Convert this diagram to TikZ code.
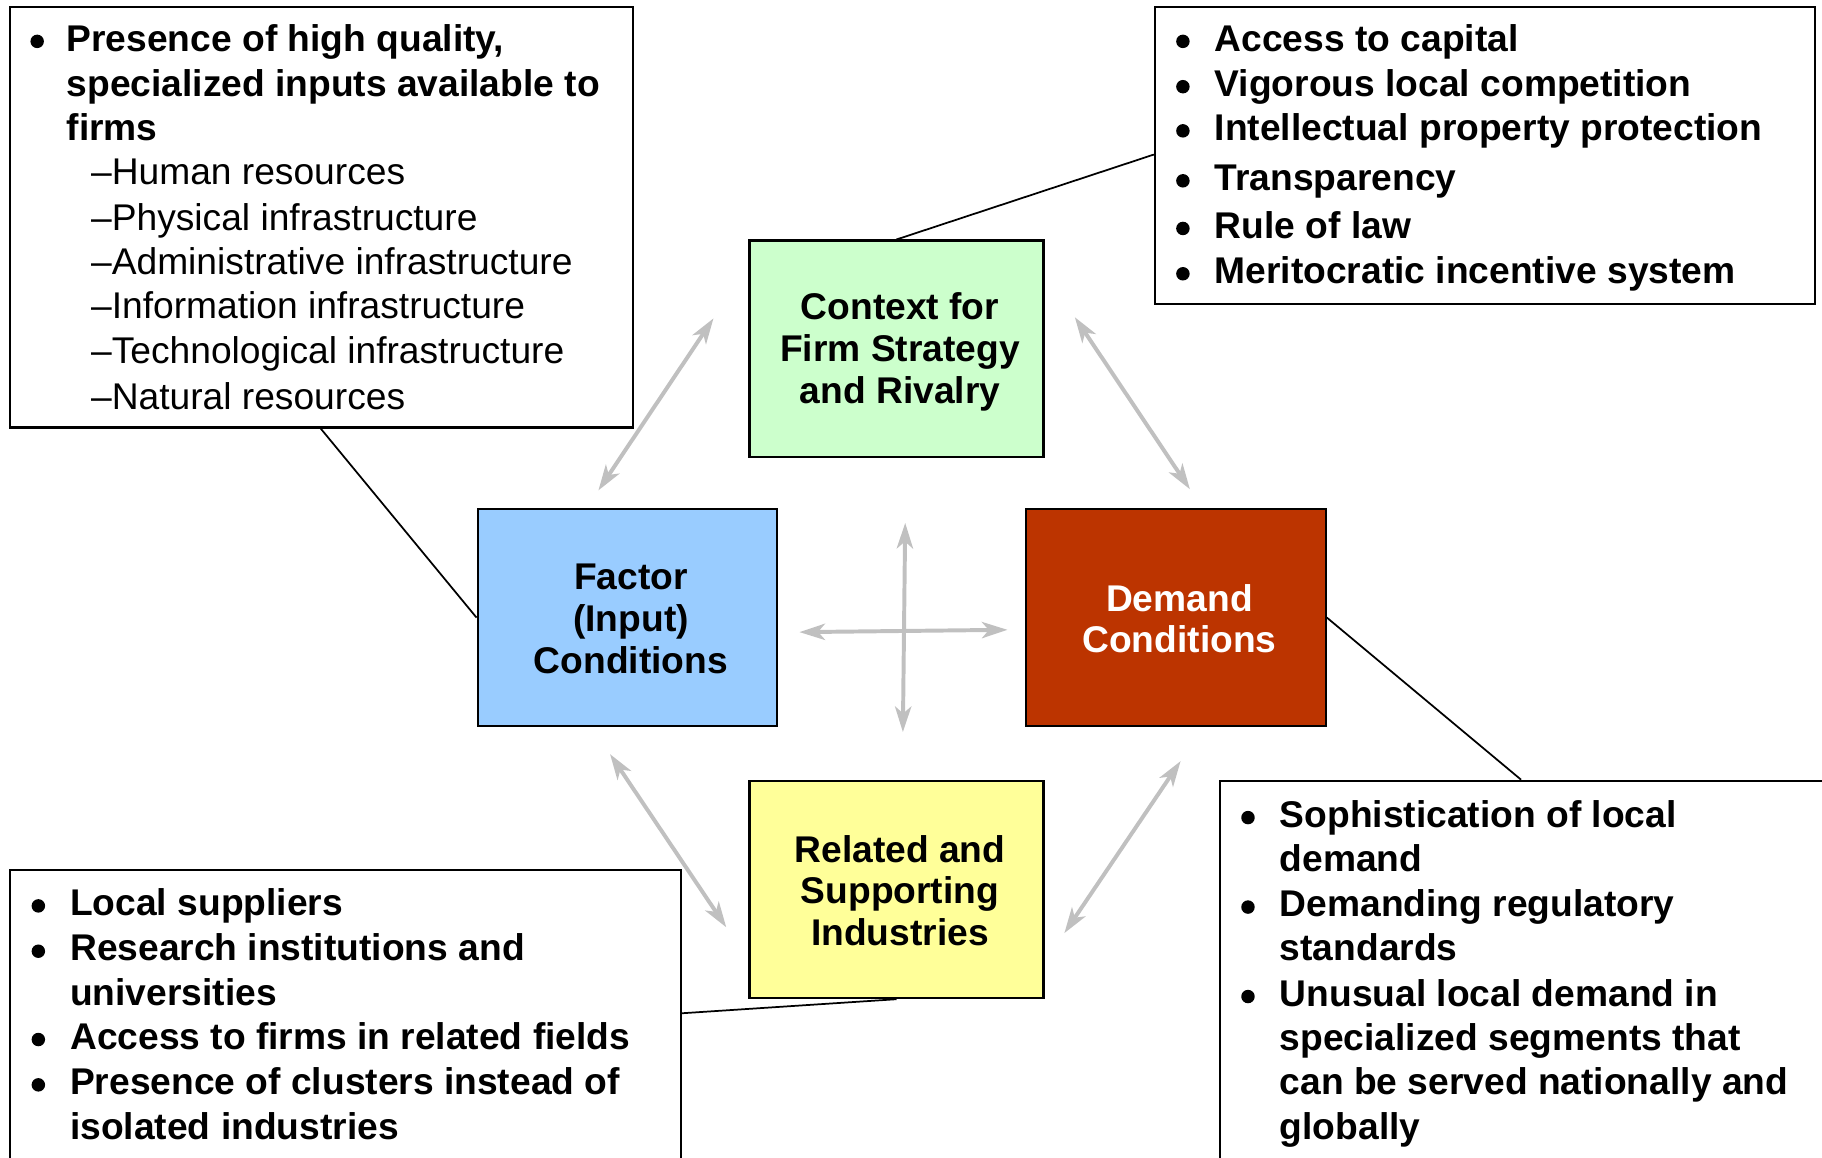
\documentclass[tikz,border=0pt]{standalone}
\usepackage{fontspec}
\setmainfont{Liberation Sans}
\usetikzlibrary{arrows.meta}
\definecolor{gfill}{HTML}{CCFFCC}
\definecolor{bfill}{HTML}{99CCFF}
\definecolor{rfill}{RGB}{188,52,0}
\definecolor{yfill}{HTML}{FFFF99}
\definecolor{arrgray}{HTML}{C0C0C0}
\begin{document}
\begin{tikzpicture}[x=0.5pt,y=-0.5pt,
  font=\fontsize{16}{18}\selectfont,
  listbox/.style={draw=black, line width=0.9pt, fill=white, inner sep=0pt, anchor=north west},
  cbox/.style={draw=black, line width=0.9pt, inner sep=0pt},
  ctext/.style={inner sep=0pt, align=center, font=\fontsize{16}{18}\selectfont\bfseries},
  tx/.style={anchor=base west, inner sep=0pt, font=\fontsize{16}{18}\selectfont\bfseries},
  sub/.style={anchor=base west, inner sep=0pt, font=\fontsize{16}{18}\selectfont},
  bul/.style={circle, fill=black, draw=none, inner sep=0pt, minimum size=5.8pt, yshift=4.2pt},
  conn/.style={draw=black, line width=0.75pt},
  dbl/.style={draw=arrgray, line width=1.7pt, {Stealth[length=11pt,width=7pt,inset=3pt]}-{Stealth[length=11pt,width=7pt,inset=3pt]}}
]
\useasboundingbox (0,0) rectangle (1568,996);
\clip (0,0) rectangle (1568,996);

% list boxes
\node[listbox, minimum width=268pt, minimum height=181pt] (tl) at (8,5) {};
\node[listbox, minimum width=284pt, minimum height=128pt] (tr) at (993,5) {};
\node[listbox, minimum width=288.5pt, minimum height=140pt] (bl) at (8,748) {};
\node[listbox, minimum width=280pt, minimum height=175pt] (br) at (1049,671) {};

% central boxes
\node[cbox, fill=gfill, minimum width=126.5pt, minimum height=93pt] (ctx) at (771.5,300) {};
\node[cbox, fill=bfill, minimum width=129pt, minimum height=93.5pt] (fac) at (540,531.5) {};
\node[cbox, fill=rfill, minimum width=129pt, minimum height=93.5pt] (dem) at (1012,531.5) {};
\node[cbox, fill=yfill, minimum width=126.5pt, minimum height=93.5pt] (rel) at (771.5,765.5) {};
\node[ctext] (ctxt) at ([xshift=1.5pt,yshift=-1.5pt]ctx.center) {Context for\\Firm Strategy\\and Rivalry};
\node[ctext] (fact) at ([xshift=1.5pt,yshift=-0.5pt]fac.center) {Factor\\(Input)\\Conditions};
\node[ctext, text=white] (demt) at ([xshift=1.5pt,yshift=-0.5pt]dem.center) {Demand\\Conditions};
\node[ctext] (relt) at ([xshift=1.5pt,yshift=-0.5pt]rel.center) {Related and\\Supporting\\Industries};

% connectors to list boxes
\draw[conn] ([xshift=134pt]tl.south west) -- (fac.west);
\draw[conn] ([yshift=-64pt]tr.north west) -- (ctx.north);
\draw[conn] (dem.east) -- ([xshift=130pt]br.north west);
\draw[conn] (rel.south) -- ([yshift=-62pt]bl.north east);

% gray double arrows
\coordinate (a1) at (614,274); \coordinate (a2) at (515,422);
\coordinate (b1) at (925,273); \coordinate (b2) at (1024,421);
\coordinate (c1) at (525,649); \coordinate (c2) at (625,798);
\coordinate (d1) at (1016,655); \coordinate (d2) at (916,803);
\coordinate (h1) at (688,544); \coordinate (h2) at (867,542);
\coordinate (v1) at (779,450); \coordinate (v2) at (777,630);
\draw[dbl] (a1) -- (a2);
\draw[dbl] (b1) -- (b2);
\draw[dbl] (c1) -- (c2);
\draw[dbl] (d1) -- (d2);
\draw[dbl] (h1) -- (h2);
\draw[dbl] (v1) -- (v2);

% top-left text
\node[bul] (tlb1) at (32,44) {};
\node[tx] (tl1) at (57,44) {Presence of high quality,};
\node[tx] (tl2) at (57,83) {specialized inputs available to};
\node[tx] (tl3) at (57,121) {firms};
\node[sub] (tl4) at (78,159) {–Human resources};
\node[sub] (tl5) at (78,198) {–Physical infrastructure};
\node[sub] (tl6) at (78,236) {–Administrative infrastructure};
\node[sub] (tl7) at (78,274) {–Information infrastructure};
\node[sub] (tl8) at (78,313) {–Technological infrastructure};
\node[sub] (tl9) at (78,352) {–Natural resources};

% top-right text
\foreach \yy/\tt [count=\i] in {44/Access to capital, 83/Vigorous local competition, 121/Intellectual property protection, 164/Transparency, 205/Rule of law, 244/Meritocratic incentive system}{
  \node[bul] (trb\i) at (1018,\yy) {};
  \node[tx] (tr\i) at (1045,\yy) {\tt};
}

% bottom-left text
\node[bul] (blb1) at (33,788) {};
\node[tx] (bl1) at (60,788) {Local suppliers};
\node[bul] (blb2) at (33,827) {};
\node[tx] (bl2) at (60,827) {Research institutions and};
\node[tx] (bl3) at (60,865) {universities};
\node[bul] (blb3) at (33,903) {};
\node[tx] (bl4) at (60,903) {Access to firms in related fields};
\node[bul] (blb4) at (33,942) {};
\node[tx] (bl5) at (60,942) {Presence of clusters instead of};
\node[tx] (bl6) at (60,981) {isolated industries};

% bottom-right text
\node[bul] (brb1) at (1074,712) {};
\node[tx] (br1) at (1101,712) {Sophistication of local};
\node[tx] (br2) at (1101,750) {demand};
\node[bul] (brb2) at (1074,789) {};
\node[tx] (br3) at (1101,789) {Demanding regulatory};
\node[tx] (br4) at (1101,827) {standards};
\node[bul] (brb3) at (1074,866) {};
\node[tx] (br5) at (1101,866) {Unusual local demand in};
\node[tx] (br6) at (1101,904) {specialized segments that};
\node[tx] (br7) at (1101,942) {can be served nationally and};
\node[tx] (br8) at (1101,981) {globally};
\end{tikzpicture}
\end{document}
